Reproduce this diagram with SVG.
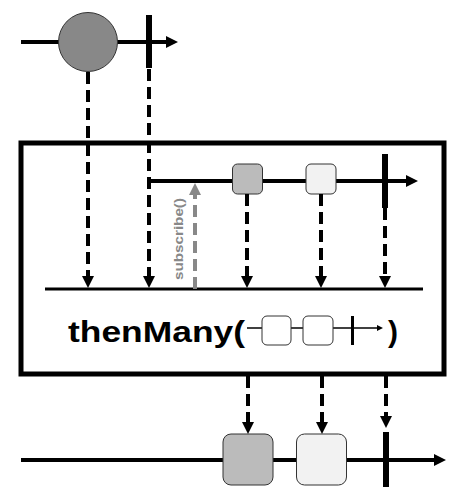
<svg xmlns="http://www.w3.org/2000/svg" width="467" height="501" viewBox="0 0 467 501">
<style>
.line{stroke:#000;stroke-width:4;fill:none}
.dash{stroke:#000;stroke-width:4;fill:none;stroke-dasharray:12 6}
.gdash{stroke:#888;stroke-width:4;fill:none;stroke-dasharray:12 6}
.bar{fill:#000}
.box{stroke:#333;stroke-width:1}
.dark{fill:#bbb}
.light{fill:#f2f2f2}
</style>
<defs>
<marker id="ah" markerUnits="userSpaceOnUse" markerWidth="12" markerHeight="12" refX="0" refY="6" orient="auto"><path d="M0,0 L12,6 L0,12 z" fill="#000"/></marker>
<marker id="gah" markerUnits="userSpaceOnUse" markerWidth="12" markerHeight="12" refX="0" refY="6" orient="auto"><path d="M0,0 L12,6 L0,12 z" fill="#888"/></marker>
<marker id="sah" markerUnits="userSpaceOnUse" markerWidth="6" markerHeight="6" refX="0" refY="3" orient="auto"><path d="M0,0 L6,3 L0,6 z" fill="#000"/></marker>
</defs>
<g id="source">
<path class="line" d="M21,42 H166" marker-end="url(#ah)"/>
<circle cx="88" cy="42" r="29.5" fill="#888" stroke="#333" stroke-width="1"/>
<rect class="bar" x="146" y="15" width="6" height="53"/>
</g>
<g id="operator">
<rect x="21" y="143" width="423" height="231" fill="none" stroke="#000" stroke-width="5"/>
<path class="line" d="M149,181 H406" marker-end="url(#ah)"/>
<rect class="box dark" x="232.5" y="164" width="30" height="30" rx="5"/>
<rect class="box light" x="306" y="164" width="30" height="30" rx="5"/>
<rect class="bar" x="382" y="154" width="6" height="54"/>
<path d="M45,289 H423" stroke="#000" stroke-width="3"/>
<text x="68" y="342" font-family="'Liberation Sans', sans-serif" font-size="30" font-weight="bold" textLength="177" lengthAdjust="spacingAndGlyphs">thenMany(</text>
<path d="M247,328 H377" stroke="#000" stroke-width="1.5" marker-end="url(#sah)"/>
<rect x="262" y="316" width="29" height="29" rx="5" fill="#fff" stroke="#333" stroke-width="1"/>
<rect x="303" y="316" width="30" height="29" rx="5" fill="#fff" stroke="#333" stroke-width="1"/>
<rect class="bar" x="351" y="316" width="3" height="29"/>
<text x="388" y="342" font-family="'Liberation Sans', sans-serif" font-size="30" font-weight="bold">)</text>
<text transform="translate(183,239) rotate(-90)" text-anchor="middle" font-family="'Liberation Sans', sans-serif" font-size="13" font-weight="bold" fill="#888" textLength="82" lengthAdjust="spacingAndGlyphs">subscribe()</text>
</g>
<g id="result">
<path class="line" d="M21,460 H434" marker-end="url(#ah)"/>
<rect class="box dark" x="223" y="434" width="50" height="51" rx="8"/>
<rect class="box light" x="296.5" y="434" width="50" height="51" rx="8"/>
<rect class="bar" x="383" y="432" width="6" height="55"/>
</g>
<g id="connectors">
<path class="dash" d="M88,72 V276" marker-end="url(#ah)"/>
<path class="dash" d="M149,69 V276" marker-end="url(#ah)"/>
<path class="dash" d="M247,194 V276" marker-end="url(#ah)"/>
<path class="dash" d="M321,194 V276" marker-end="url(#ah)"/>
<path class="dash" d="M385,208 V276" marker-end="url(#ah)"/>
<path class="gdash" d="M195,289 V195" marker-end="url(#gah)"/>
<path class="dash" d="M248,376 V422" marker-end="url(#ah)"/>
<path class="dash" d="M322,376 V422" marker-end="url(#ah)"/>
<path class="dash" d="M386,376 V416" marker-end="url(#ah)"/>
</g>
</svg>
